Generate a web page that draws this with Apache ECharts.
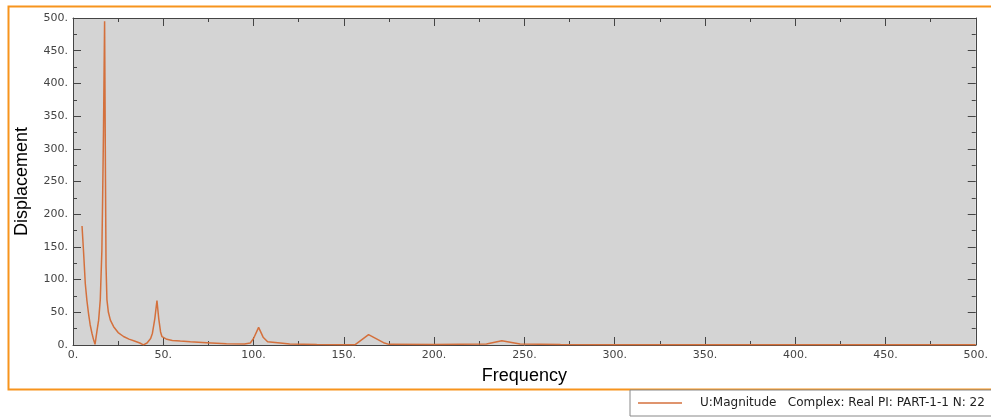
<!DOCTYPE html>
<html>
<head>
<meta charset="utf-8">
<script src="https://cdn.jsdelivr.net/npm/echarts@6/dist/echarts.min.js"></script>
<style>html,body{margin:0;padding:0;background:#fff;}#c{width:991px;height:419px;}</style>
</head>
<body>
<div id="c"></div>
<script>
const seriesName = 'U:Magnitude   Complex: Real PI: PART-1-1 N: 22';
const freq = [5,5.9,6.8,7.7,8.6,9.5,10.5,11.3,12.2,13.2,14.2,15.1,16.0,16.4,16.9,17.5,18.0,18.3,18.8,19.6,20.7,22.5,25,28,31,34,37,39,41,41.9,43,44,45.3,46.5,47.5,48.5,49.3,52,55,59.4,65,74,85,95,98.2,100,102.8,105.3,107.8,114.8,120,135,150,156.3,163.7,172,175,200,229,237.5,247.6,270,300,350,400,450,500];
const disp = [182,140,94,68,48,31,18,9,1,20,38,69,145,222,330,495,250,120,69,50,38,28,19,13,9,6,3,0.3,3,5,10,18,40,68,40,20,12.7,8.7,7,6,4.8,3.5,2,1.5,3,10,27,12,5,3,1.5,0.8,0.5,0.5,16,3.5,1,0.8,1.5,6.5,1.5,0.8,0.5,0.4,0.3,0.3,0.3];
const xTicks = [0,50,100,150,200,250,300,350,400,450,500];
const yTicks = [0,50,100,150,200,250,300,350,400,450,500];

const chart = echarts.init(document.getElementById('c'));
const axisCol = '#444';
const lab = {fontFamily:'DejaVu Sans', fontSize:11, color:'#444', formatter: v => v + '.'};
const common = (pos, show) => ({
  type:'value', min:0, max:500, interval:50, position:pos,
  axisLine:{show:true, onZero:false, lineStyle:{color:axisCol, width:1}},
  axisTick:{show:true, inside:true, length:8, lineStyle:{color:axisCol}},
  minorTick:{show:true, splitNumber:2, length:4, lineStyle:{color:axisCol}},
  splitLine:{show:false},
  axisLabel: show ? Object.assign({margin:5}, lab) : {show:false}
});
const xb = common('bottom', true);
xb.name = 'Frequency'; xb.nameLocation = 'middle'; xb.nameGap = 22;
xb.nameTextStyle = {fontFamily:'Liberation Sans', fontSize:18, color:'#000'};
const xt = common('top', false);
const yl = common('left', true);
yl.name = 'Displacement'; yl.nameLocation = 'middle'; yl.nameGap = 42;
yl.nameTextStyle = {fontFamily:'Liberation Sans', fontSize:18, color:'#000'};
const yr = common('right', false);

chart.setOption({
  animation:false,
  backgroundColor:'#fff',
  graphic:[{type:'rect', shape:{x:8.5, y:6.5, width:1100, height:383}, style:{fill:null, stroke:'#F7941D', lineWidth:2}, z:-1}],
  grid:{left:73, right:13, top:18, bottom:74, show:true, backgroundColor:'#d4d4d4', borderWidth:0},
  legend:{show:true, left:630, top:390, orient:'horizontal', backgroundColor:'#fff', borderColor:'#888', borderWidth:1,
    padding:[7,300,7,8], itemWidth:44, itemHeight:10,
    textStyle:{fontFamily:'DejaVu Sans', fontSize:12, color:'#222', padding:[0,0,0,13]},
    data:[{name:seriesName, icon:'path://M0,0L44,0L44,1.5L0,1.5Z'}]},
  xAxis:[xb, xt],
  yAxis:[yl, yr],
  series:[{name:seriesName, type:'line', xAxisIndex:0, yAxisIndex:0, showSymbol:false, symbol:'none',
    lineStyle:{color:'#d4703c', width:1.5}, itemStyle:{color:'#d4703c'},
    data: freq.map((f,i)=>[f, disp[i]]), z:5}]
});
</script>
</body>
</html>
